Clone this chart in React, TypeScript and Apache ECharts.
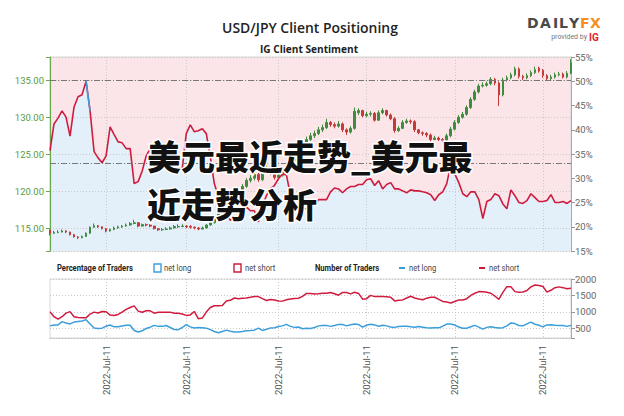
import React, { useEffect, useRef } from "react";
import * as echarts from "echarts";

const NARROW = "'Liberation Sans Narrow', 'Arial Narrow', Roboto, sans-serif";

const tickIndices = [14, 34, 57, 79, 101, 123];
const tickLabel = "2022-Jul-11";

// candles: [open, close, low, high]
const candles = [
  [114.8,114.4,114.1,114.9],[114.4,114.5,114.3,114.7],[114.5,114.55,114.4,114.8],[114.55,114.7,114.5,114.9],[114.7,114.55,114.4,114.8],
  [114.55,114.2,114.1,114.6],[114.2,113.9,113.8,114.3],[113.9,113.8,113.6,114.0],[113.8,113.95,113.7,114.1],[113.95,114.4,113.9,114.5],
  [114.4,115.2,114.3,115.3],[115.2,115.4,115.1,115.7],[115.4,115.25,115.1,115.5],[115.25,115.0,114.9,115.3],[115.0,114.7,114.5,115.1],
  [114.7,114.9,114.6,115.0],[114.9,115.1,114.8,115.3],[115.1,115.25,115.0,115.4],[115.25,115.35,115.1,115.5],[115.35,115.5,115.3,115.7],
  [115.5,115.7,115.4,115.9],[115.7,115.8,115.6,116.2],[115.8,115.35,115.2,115.9],[115.35,115.55,115.3,115.7],[115.55,115.5,115.3,115.7],
  [115.5,115.35,115.2,115.6],[115.35,115.0,114.9,115.4],[115.0,114.85,114.7,115.1],[114.85,114.9,114.7,115.1],[114.9,114.95,114.8,115.2],
  [114.95,115.1,114.9,115.3],[115.1,115.3,115.0,115.5],[115.25,115.3,115.1,115.6],[115.3,115.35,115.2,115.6],[115.35,115.25,115.1,115.5],
  [115.3,115.2,115.0,115.5],[115.2,115.1,114.9,115.3],[115.1,114.95,114.8,115.2],[114.95,115.1,114.9,115.3],[115.1,115.5,115.0,115.6],
  [115.5,115.8,115.4,115.9],[115.8,116.4,115.7,116.6],[116.4,117.0,116.3,117.2],[117.0,117.8,116.9,118.0],[117.8,118.5,117.6,118.7],
  [118.5,119.2,118.3,119.5],[119.2,119.7,119.0,120.0],[119.7,120.2,119.5,120.5],[120.2,120.7,120.0,121.0],[120.7,121.5,120.5,121.8],
  [121.5,121.8,121.2,122.2],[121.8,122.3,121.5,122.6],[122.3,121.6,121.3,122.5],[121.6,122.8,121.4,123.0],[122.8,123.3,122.5,124.0],
  [123.3,122.5,122.2,123.5],[122.5,121.9,121.6,122.7],[121.9,122.2,121.7,122.5],[122.2,122.6,122.0,122.9],[122.6,123.4,122.4,123.7],
  [123.4,124.2,123.2,124.5],[124.2,125.0,124.0,125.3],[125.0,125.8,124.8,126.2],[125.8,126.5,125.5,126.8],[126.5,127.0,126.2,127.4],
  [127.0,127.5,126.8,127.9],[127.5,127.8,127.2,128.2],[127.8,128.3,127.6,128.7],[128.3,128.6,128.0,129.0],[128.6,129.3,128.4,129.8],
  [129.3,129.0,128.7,129.5],[129.0,128.8,128.5,129.3],[128.8,129.1,128.6,129.5],[129.1,128.3,128.0,129.3],[128.3,128.0,127.6,128.5],
  [128.0,128.5,127.8,128.8],[128.5,130.8,128.3,131.3],[130.6,130.9,130.3,131.2],[130.9,130.2,130.0,131.0],[130.2,130.4,130.0,130.7],
  [130.4,130.5,130.1,130.8],[130.5,129.6,129.4,130.7],[129.6,130.6,129.5,130.9],[130.6,130.9,130.4,131.2],[130.9,130.3,130.1,131.0],
  [130.3,129.8,129.6,130.5],[129.8,128.2,127.9,130.0],[128.2,128.5,128.0,128.8],[128.5,129.3,128.4,129.6],[129.3,129.5,129.1,129.8],
  [129.5,129.4,129.1,129.7],[129.4,128.3,128.0,129.6],[128.3,127.9,127.7,128.4],[127.9,127.8,127.5,128.1],[127.8,127.6,127.3,128.0],
  [127.6,127.0,126.7,127.8],[127.0,127.2,126.9,127.5],[127.2,127.0,126.8,127.4],[127.0,126.9,126.6,127.2],[126.9,127.5,126.8,127.8],
  [127.5,128.4,127.3,128.7],[128.4,129.3,128.2,129.6],[129.3,130.0,129.1,130.3],[130.0,130.4,129.8,130.7],[130.4,131.3,130.2,131.6],
  [131.3,132.4,131.1,132.7],[132.4,133.4,132.2,133.7],[133.4,134.2,133.2,134.5],[134.2,134.3,134.0,134.7],[134.3,134.5,134.1,134.8],
  [134.5,135.1,134.3,135.4],[135.1,134.6,134.3,135.3],[134.6,133.0,131.5,134.8],[133.0,135.0,132.8,135.3],[135.0,135.3,134.8,135.6],
  [135.3,135.7,135.1,136.0],[135.7,136.5,135.5,136.8],[136.5,135.5,135.2,136.7],[135.5,135.3,135.0,135.7],[135.3,135.6,135.1,135.9],
  [135.6,136.0,135.4,136.3],[136.0,136.4,135.8,136.8],[136.6,136.2,136.0,136.8],[136.3,135.6,135.3,136.5],[135.6,135.2,135.0,135.8],
  [135.2,135.4,135.0,135.7],[135.4,135.7,135.2,136.0],[135.7,135.8,135.5,136.1],[135.8,135.4,135.2,136.0],[135.4,135.9,135.2,136.2],
  [135.9,137.3,135.8,137.8],
];

// IG client sentiment: percentage of traders net long
const netLongPct = [
  35.7,41.2,42.4,43.9,42.6,38.7,44.7,46.8,47.2,50.0,
  43.9,35.5,34.2,33.2,34.6,40.6,39.0,37.5,37.3,36.1,
  36.1,28.9,29.3,31.5,34.6,36.1,36.5,36.1,35.9,35.2,
  34.0,32.4,32.0,32.0,39.2,41.0,39.6,39.8,40.2,39.2,
  34.4,28.9,26.2,24.3,22.7,21.3,22.1,21.9,22.7,24.1,
  23.3,23.3,21.0,24.3,26.4,27.8,28.5,29.9,30.9,30.7,
  26.4,23.7,24.1,23.7,23.7,24.3,24.5,25.6,25.6,25.6,
  27.2,28.0,27.8,27.0,27.8,28.3,28.3,28.7,28.7,29.7,
  29.9,28.5,29.5,27.8,28.7,29.1,27.8,27.8,27.4,27.0,
  27.6,27.4,27.4,27.2,27.0,26.6,25.4,26.6,27.2,28.9,
  32.8,30.9,29.1,26.8,26.2,27.2,27.2,25.6,21.7,25.2,
  25.6,26.8,26.4,24.7,23.7,27.6,26.4,25.0,24.8,25.4,
  26.8,26.0,25.2,25.2,25.4,26.6,25.0,25.0,25.2,24.8,
  25.4,
];
// stretch of the sentiment line drawn in blue (net long majority)
const blueStretch = [9, 10];

const netShortCount = [
  1000,850,777,850,960,1005,850,827,815,815,
  930,989,965,1010,1000,900,888,920,990,1075,
  1130,1180,1020,985,1030,1030,958,985,989,989,
  989,958,958,930,890,905,1009,790,807,990,
  1130,1185,1185,1195,1330,1350,1420,1400,1413,1420,
  1440,1463,1463,1400,1345,1375,1360,1330,1325,1365,
  1390,1408,1413,1470,1560,1555,1540,1550,1565,1567,
  1590,1550,1505,1590,1590,1545,1595,1560,1385,1400,
  1500,1463,1463,1463,1455,1445,1332,1355,1362,1420,
  1475,1420,1390,1365,1415,1440,1443,1380,1315,1297,
  1268,1312,1362,1362,1400,1500,1565,1615,1612,1595,
  1565,1480,1380,1590,1766,1762,1615,1598,1605,1648,
  1760,1817,1800,1770,1600,1655,1736,1760,1736,1700,
  1716,
];

const netLongCount = [
  570,595,600,700,660,630,686,702,718,760,
  625,504,488,500,560,595,540,540,565,590,
  590,430,385,420,490,530,585,555,555,580,
  520,460,454,520,610,540,505,520,515,500,
  455,400,360,400,440,405,385,383,400,423,
  430,440,500,430,464,504,515,550,570,615,
  555,524,535,484,500,490,520,570,585,585,
  555,580,615,610,570,605,625,610,530,590,
  620,600,560,590,570,535,524,550,555,555,
  540,530,550,530,510,504,515,510,560,625,
  625,595,535,495,500,545,585,530,470,524,
  540,520,504,515,570,660,640,580,570,630,
  686,620,590,540,600,605,590,585,580,555,
  585,
];

const categories = candles.map((_, i) => String(i));
const refLines = [135, 123.8];

const RED = "#cf1c3e";
const BLUE = "#3a9edb";
const GRIDLINE = { color: "#c9c9c9", type: [1, 2] as any, width: 1 };

const isTick = (i: number) => tickIndices.includes(i);

export default function App() {
  const ref = useRef<HTMLDivElement>(null);
  useEffect(() => {
    document.body.style.margin = "0";
    if (!ref.current) return;
    const chart = echarts.init(ref.current, null, { renderer: "svg" });
    const blueSeg = netLongPct.map((v, i) => (blueStretch.includes(i) ? v : null));
    const txt = (x: number, y: number, text: string, opts: any = {}, scaleX = 1) => ({
      type: "text",
      x,
      y,
      scaleX,
      silent: true,
      style: {
        text,
        fill: "#333",
        fontSize: 10,
        fontFamily: NARROW,
        align: "left",
        verticalAlign: "middle",
        ...opts,
      },
    });
    const LOGO = { fontSize: 14, fontWeight: "bold", fontFamily: "'DejaVu Sans', sans-serif" };
    const option: any = {
      animation: false,
      backgroundColor: "#ffffff",
      grid: [
        { left: 50, right: 53, top: 57, height: 194, show: true, backgroundColor: "#fce5e8", borderColor: "#d6d6d6", borderWidth: 1, z: 0 },
        { left: 50, right: 53, top: 279, height: 59, show: true, backgroundColor: "#ffffff", borderColor: "#d6d6d6", borderWidth: 1, z: 0 },
      ],
      xAxis: [
        {
          type: "category", gridIndex: 0, data: categories, boundaryGap: false, z: 2,
          axisLine: { show: false }, axisTick: { show: false }, axisLabel: { show: false },
          splitLine: { show: true, interval: (i: number) => isTick(i), lineStyle: GRIDLINE },
        },
        {
          type: "category", gridIndex: 1, data: categories, boundaryGap: false, z: 2,
          axisLine: { show: true, lineStyle: { color: "#bdbdbd", type: [1, 2] } },
          axisTick: { show: false },
          axisLabel: {
            interval: (i: number) => isTick(i), rotate: 90, margin: 7,
            formatter: () => tickLabel, color: "#555", fontSize: 9.5, fontFamily: NARROW,
          },
          splitLine: { show: true, interval: (i: number) => isTick(i), lineStyle: GRIDLINE },
        },
      ],
      yAxis: [
        {
          type: "value", gridIndex: 0, position: "left", min: 112, max: 138.1, z: 2,
          axisLine: { show: true, lineStyle: { color: "#6aa84f", width: 1.2 } },
          axisTick: { show: true, length: 4, lineStyle: { color: "#6aa84f" } },
          axisLabel: {
            color: "#5a9a3c", fontSize: 9.5, fontFamily: NARROW, margin: 6,
            formatter: (v: number) => (Math.abs(v % 5) < 1e-6 ? v.toFixed(2) : ""),
          },
          splitLine: { show: true, lineStyle: GRIDLINE },
        },
        {
          type: "value", gridIndex: 0, position: "right", min: 15, max: 55, interval: 5, z: 2,
          axisLine: { show: true, lineStyle: { color: "#aaaaaa" } },
          axisTick: { show: true, length: 4, lineStyle: { color: "#999" } },
          axisLabel: { color: "#666", fontSize: 9.5, fontFamily: NARROW, margin: 4, formatter: "{value}%" },
          splitLine: { show: false },
        },
        {
          type: "value", gridIndex: 1, position: "right", min: 200, max: 2000, splitNumber: 4, z: 2,
          axisLine: { show: true, lineStyle: { color: "#aaaaaa" } },
          axisTick: { show: true, length: 4, lineStyle: { color: "#999" } },
          axisLabel: {
            color: "#666", fontSize: 9.5, fontFamily: NARROW, margin: 4,
            formatter: (v: number) => (v % 500 === 0 ? String(v) : ""),
          },
          splitLine: { show: true, lineStyle: GRIDLINE },
        },
      ],
      series: [
        {
          type: "line", name: "net long area", xAxisIndex: 0, yAxisIndex: 1, data: netLongPct,
          symbol: "none", silent: true, z: 1,
          lineStyle: { width: 0, opacity: 0 },
          areaStyle: { color: "#e3f0fa", opacity: 1, origin: "start" },
        },
        {
          type: "candlestick", name: "USD/JPY", xAxisIndex: 0, yAxisIndex: 0, data: candles,
          barWidth: 2.2, z: 3,
          itemStyle: { color: "#3f8c3f", color0: "#c43a3a", borderColor: "#3f8c3f", borderColor0: "#c43a3a", borderWidth: 1 },
          markLine: {
            silent: true, symbol: ["none", "none"], label: { show: false },
            lineStyle: { color: "#777", type: [6, 2, 1, 2], width: 1 },
            data: refLines.map((v) => ({ yAxis: v })),
          },
        },
        {
          type: "line", name: "net long %", xAxisIndex: 0, yAxisIndex: 1, data: netLongPct,
          symbol: "none", z: 4, lineStyle: { color: RED, width: 1.6 }, itemStyle: { color: RED },
        },
        {
          type: "line", name: "net long % (majority)", xAxisIndex: 0, yAxisIndex: 1, data: blueSeg,
          symbol: "none", z: 5, lineStyle: { color: BLUE, width: 1.6 }, itemStyle: { color: BLUE },
        },
        {
          type: "line", name: "net short", xAxisIndex: 1, yAxisIndex: 2, data: netShortCount,
          symbol: "none", z: 4, lineStyle: { color: RED, width: 1.5 }, itemStyle: { color: RED },
        },
        {
          type: "line", name: "net long", xAxisIndex: 1, yAxisIndex: 2, data: netLongCount,
          symbol: "none", z: 4, lineStyle: { color: BLUE, width: 1.5 }, itemStyle: { color: BLUE },
        },
      ],
      graphic: [
        txt(310, 27, "USD/JPY Client Positioning", { fill: "#222", fontSize: 15, fontWeight: 600, fontFamily: "'Open Sans', sans-serif", align: "center" }, 0.93),
        txt(309, 49, "IG Client Sentiment", { fill: "#222", fontSize: 11, fontWeight: "bold", fontFamily: "'Open Sans', sans-serif", align: "center" }, 0.92),
        // DailyFX logo
        txt(527, 23, "D", { fill: "#4a4a4a", ...LOGO }),
        txt(540, 23, "A", { fill: "#4a4a4a", ...LOGO }),
        txt(553, 23, "I", { fill: "#4a4a4a", ...LOGO }),
        txt(559, 23, "L", { fill: "#4a4a4a", ...LOGO }),
        txt(569, 23, "Y", { fill: "#4a4a4a", ...LOGO }),
        txt(580, 23, "F", { fill: "#f39021", ...LOGO }),
        txt(590, 23, "X", { fill: "#f39021", ...LOGO }),
        txt(587, 37, "provided by", { fill: "#777", fontSize: 7, fontFamily: "Roboto, sans-serif", align: "right" }),
        txt(589, 37, "IG", { fill: "#e3242b", fontSize: 10, fontWeight: "bold", fontFamily: "Roboto, sans-serif" }),
        // legend row
        txt(57, 268, "Percentage of Traders", { fill: "#222", fontSize: 9.5, fontWeight: "bold" }, 0.8),
        { type: "rect", silent: true, shape: { x: 154, y: 264, width: 7, height: 8 }, style: { fill: "#fff", stroke: BLUE, lineWidth: 1.4 } },
        txt(164, 268, "net long", { fill: "#444", fontSize: 9.5 }, 0.8),
        { type: "rect", silent: true, shape: { x: 234, y: 264, width: 7, height: 8 }, style: { fill: "#fff", stroke: RED, lineWidth: 1.4 } },
        txt(245, 268, "net short", { fill: "#444", fontSize: 9.5 }, 0.8),
        txt(315, 268, "Number of Traders", { fill: "#222", fontSize: 9.5, fontWeight: "bold" }, 0.8),
        { type: "line", silent: true, shape: { x1: 399, y1: 268, x2: 405, y2: 268 }, style: { stroke: BLUE, lineWidth: 2 } },
        txt(409, 268, "net long", { fill: "#444", fontSize: 9.5 }, 0.8),
        { type: "line", silent: true, shape: { x1: 479, y1: 268, x2: 485, y2: 268 }, style: { stroke: RED, lineWidth: 2 } },
        txt(489, 268, "net short", { fill: "#444", fontSize: 9.5 }, 0.8),
        // overlay caption
        txt(147, 155, "美元最近走势_美元最", {
          fill: "#111", fontSize: 34, fontWeight: 900, fontFamily: "'Noto Sans CJK SC', sans-serif",
          stroke: "#ffffff", lineWidth: 3, strokeFirst: true,
        }),
        txt(147, 203, "近走势分析", {
          fill: "#111", fontSize: 34, fontWeight: 900, fontFamily: "'Noto Sans CJK SC', sans-serif",
          stroke: "#ffffff", lineWidth: 3, strokeFirst: true,
        }),
      ].map((g: any) => ({ ...g, z: 100 })),
    };
    chart.setOption(option);
    return () => chart.dispose();
  }, []);
  return <div ref={ref} style={{ position: "fixed", left: 0, top: 0, width: 624, height: 416 }} />;
}
